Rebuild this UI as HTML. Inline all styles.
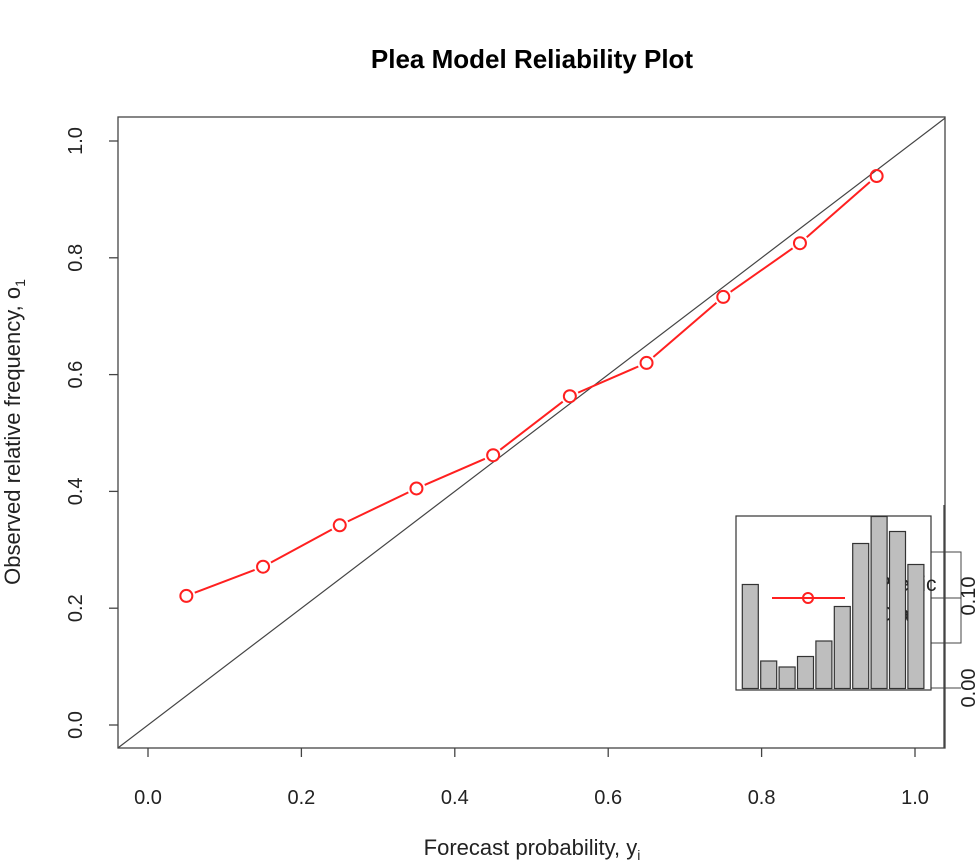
<!DOCTYPE html>
<html><head><meta charset="utf-8"><style>
body{margin:0;background:#fff;}
svg{display:block;font-family:"Liberation Sans",sans-serif;}
</style></head><body>
<svg id="c" width="975" height="867">
<text x="532" y="68" text-anchor="middle" font-size="26" font-weight="bold">Plea Model Reliability Plot</text>
<rect x="118" y="117" width="827" height="631" fill="none" stroke="#444" stroke-width="1.3"/>
<g id="axes"></g>
<text x="532" y="855" text-anchor="middle" font-size="22" fill="#222">Forecast probability, y<tspan font-size="14" dy="5">i</tspan></text>
<text transform="translate(20,432) rotate(-90)" text-anchor="middle" font-size="22" fill="#222">Observed relative frequency, o<tspan font-size="14" dy="5">1</tspan></text>
<g id="diag"></g>
<g id="series"></g>
<g id="inset"></g>
</svg>
<script>
const xTicks=[0,0.2,0.4,0.6,0.8,1.0];
const xTickLabels=["0.0","0.2","0.4","0.6","0.8","1.0"];
const yTicks=[0,0.2,0.4,0.6,0.8,1.0];
const yTickLabels=["0.0","0.2","0.4","0.6","0.8","1.0"];
const forecast=[0.05,0.15,0.25,0.35,0.45,0.55,0.65,0.75,0.85,0.95];
const observed=[0.221,0.271,0.342,0.405,0.462,0.563,0.620,0.733,0.825,0.940];
const histCounts=[0.208,0.055,0.043,0.064,0.095,0.164,0.290,0.344,0.314,0.248];
const NS="http://www.w3.org/2000/svg";
function X(v){return 148+v*767;}
function Y(v){return 725-v*584;}
function mk(t,a,p){const e=document.createElementNS(NS,t);for(const k in a)e.setAttribute(k,a[k]);p.appendChild(e);return e;}
const ax=document.getElementById('axes');
xTicks.forEach((v,i)=>{
 const l=mk('line',{x1:X(v),x2:X(v),y1:748,y2:757,stroke:'#444','stroke-width':1.3},ax);
 
 
 const t=mk('text',{x:X(v),y:804,'text-anchor':'middle','font-size':20,fill:'#222'},ax);
 t.textContent=xTickLabels[i];
 
 
});
yTicks.forEach((v,i)=>{
 const l=mk('line',{x1:109,x2:118,y1:Y(v),y2:Y(v),stroke:'#444','stroke-width':1.3},ax);
 
 
 const t=mk('text',{transform:`translate(82,${Y(v)}) rotate(-90)`,'text-anchor':'middle','font-size':20,fill:'#222'},ax);
 t.textContent=yTickLabels[i];
 
 
});
const d=mk('line',{x1:118,y1:Y((118-148)/767),x2:945,y2:Y((945-148)/767),stroke:'#444','stroke-width':1.2},document.getElementById('diag'));


const s=document.getElementById('series');
const r=6;
for(let i=0;i<forecast.length-1;i++){
 const x1=X(forecast[i]),y1=Y(observed[i]),x2=X(forecast[i+1]),y2=Y(observed[i+1]);
 const L=Math.hypot(x2-x1,y2-y1),ux=(x2-x1)/L,uy=(y2-y1)/L,g=r+3;
 const seg=mk('line',{x1:x1+ux*g,y1:y1+uy*g,x2:x2-ux*g,y2:y2-uy*g,stroke:'#ff2020','stroke-width':2},s);
 
 
}
forecast.forEach((f,i)=>{
 const c=mk('circle',{cx:X(f),cy:Y(observed[i]),r:r,fill:'none',stroke:'#ff2020','stroke-width':2},s);
 
 
});
const ins=document.getElementById('inset');
mk('rect',{x:931,y:552,width:30,height:91,fill:'none',stroke:'#444','stroke-width':1},ins);
mk('line',{x1:931,x2:961,y1:598,y2:598,stroke:'#444','stroke-width':1},ins);
mk('line',{x1:931,x2:961,y1:688,y2:688,stroke:'#444','stroke-width':1},ins);
const fr=mk('rect',{x:736,y:516,width:195,height:174,fill:'#fff',stroke:'#333','stroke-width':1.2},ins);


mk('line',{x1:772,x2:845,y1:598,y2:598,stroke:'#ff2020','stroke-width':2},ins);
mk('circle',{cx:808,cy:598,r:5,fill:'none',stroke:'#ff2020','stroke-width':2},ins);
const lt1=mk('text',{x:877,y:591,'font-size':21,fill:'#222'},ins);lt1.textContent='Predic';


const lt2=mk('text',{x:877,y:621,'font-size':21,fill:'#222'},ins);lt2.textContent='Ola';


const base=688.5,scale=500;
histCounts.forEach((h,i)=>{
 const bx=742.3+i*18.4;
 const b=mk('rect',{x:bx,y:base-h*scale,width:16,height:h*scale,fill:'#bebebe',stroke:'#333','stroke-width':1.2},ins);
 
 
});
mk('line',{x1:944,x2:944,y1:505,y2:748,stroke:'#444','stroke-width':1.3},ins);
const a1=mk('text',{transform:'translate(975,596) rotate(-90)','text-anchor':'middle','font-size':20,fill:'#222'},ins);a1.textContent='0.10';


const a2=mk('text',{transform:'translate(975,688) rotate(-90)','text-anchor':'middle','font-size':20,fill:'#222'},ins);a2.textContent='0.00';


</script>
</body></html>
